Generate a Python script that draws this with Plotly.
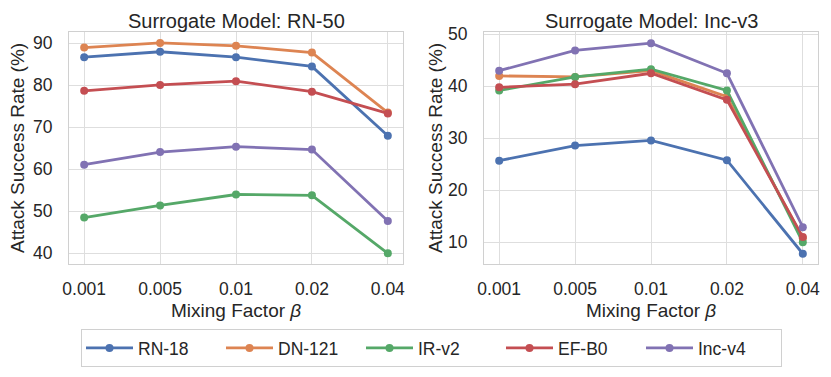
import plotly.graph_objects as go

# data
betas = ["0.001", "0.005", "0.01", "0.02", "0.04"]
models = ["RN-18", "DN-121", "IR-v2", "EF-B0", "Inc-v4"]

rn50_rn18 = [86.7, 88.0, 86.7, 84.5, 68.0]
rn50_dn121 = [89.0, 90.1, 89.4, 87.8, 73.5]
rn50_irv2 = [48.5, 51.4, 54.0, 53.8, 40.0]
rn50_efb0 = [78.7, 80.1, 81.0, 78.5, 73.3]
rn50_incv4 = [61.1, 64.1, 65.4, 64.7, 47.7]

incv3_rn18 = [25.7, 28.6, 29.6, 25.8, 7.8]
incv3_dn121 = [42.0, 41.8, 43.0, 38.0, 10.8]
incv3_irv2 = [39.2, 41.8, 43.3, 39.2, 10.0]
incv3_efb0 = [39.8, 40.4, 42.5, 37.4, 11.0]
incv3_incv4 = [43.0, 46.9, 48.3, 42.5, 12.9]

left_ticks = [40, 50, 60, 70, 80, 90]
right_ticks = [10, 20, 30, 40, 50]

colors = ["#4C72B0", "#DD8452", "#55A868", "#C44E52", "#8172B3"]

rn50 = [rn50_rn18, rn50_dn121, rn50_irv2, rn50_efb0, rn50_incv4]
incv3 = [incv3_rn18, incv3_dn121, incv3_irv2, incv3_efb0, incv3_incv4]

# the page body has an 8px margin, so the figure is a bit smaller and shifted
OFF = 8
W, H = 831 - OFF, 377 - OFF
FONT = "Liberation Sans, Arial, sans-serif"
TXT = "#262626"
GRID = "#dedede"

fig = go.Figure()

# ==========================================
# LINES
# ==========================================

for i, name in enumerate(models):
    for vals, xa, ya, show in [(rn50[i], "x", "y", True), (incv3[i], "x2", "y2", False)]:
        fig.add_trace(go.Scatter(
            x=betas, y=vals, xaxis=xa, yaxis=ya,
            mode="lines+markers",
            name=name, legendgroup=name, showlegend=show,
            line=dict(color=colors[i], width=2.8),
            marker=dict(color=colors[i], size=8),
        ))

# ==========================================
# AXES
# ==========================================

def px_x(p):
    return (p - OFF) / W

def px_y(p):
    return 1 - (p - OFF) / H

axis_common = dict(
    showgrid=True, gridcolor=GRID, gridwidth=1,
    showline=True, linecolor="#d0d0d0", linewidth=1.2, mirror=True,
    zeroline=False, automargin=False,
    tickfont=dict(size=17.5, color=TXT, family=FONT),
)

fig.update_layout(
    xaxis=dict(domain=[px_x(69), px_x(403)], type="category",
               range=[-0.2, 4.2], ticklabelstandoff=9, anchor="y", **axis_common),
    yaxis=dict(domain=[px_y(264), px_y(32)], range=[37.45, 92.7],
               tickvals=left_ticks, ticklabelstandoff=12, anchor="x", **axis_common),
    xaxis2=dict(domain=[px_x(484), px_x(818)], type="category",
                range=[-0.2, 4.2], ticklabelstandoff=9, anchor="y2", **axis_common),
    yaxis2=dict(domain=[px_y(264), px_y(32)], range=[5.83, 50.44],
                tickvals=right_ticks, ticklabelstandoff=12, anchor="x2", **axis_common),
)

# ==========================================
# TITLES
# ==========================================

ann = dict(xref="paper", yref="paper", showarrow=False,
           xanchor="center", yanchor="middle",
           font=dict(size=19, color=TXT, family=FONT))

title = dict(xref="paper", yref="paper", showarrow=False,
             xanchor="center", yanchor="top", y=1,
             font=dict(size=20, color=TXT, family=FONT))
fig.add_annotation(x=px_x(236), text="Surrogate Model: RN-50", **title)
fig.add_annotation(x=px_x(651), text="Surrogate Model: Inc-v3", **title)
fig.add_annotation(x=px_x(236), y=px_y(310), text="Mixing Factor <i>β</i>", **ann)
fig.add_annotation(x=px_x(651), y=px_y(310), text="Mixing Factor <i>β</i>", **ann)
fig.add_annotation(x=px_x(17), y=px_y(148), text="Attack Success Rate (%)", textangle=-90, **ann)
fig.add_annotation(x=px_x(435), y=px_y(148), text="Attack Success Rate (%)", textangle=-90, **ann)

fig.update_layout(
    width=W, height=H,
    margin=dict(l=0, r=0, t=0, b=0),
    paper_bgcolor="white", plot_bgcolor="white",
    font=dict(family=FONT, color=TXT),
    showlegend=True,
    legend=dict(
        orientation="h", x=px_x(81), xanchor="left", y=px_y(367), yanchor="bottom",
        bordercolor="#d0d0d0", borderwidth=1, bgcolor="white",
        font=dict(size=17.5, color=TXT, family=FONT),
        itemwidth=47,
        entrywidth=78, entrywidthmode="pixels",
    ),
)

fig.write_html("out.html")
